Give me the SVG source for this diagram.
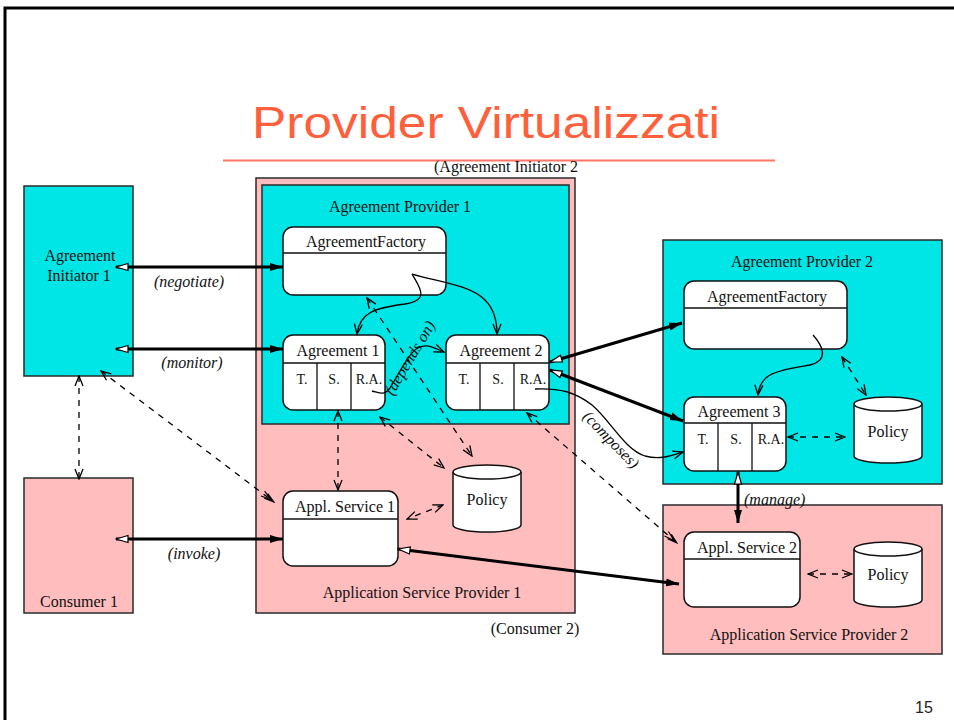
<svg xmlns="http://www.w3.org/2000/svg" width="954" height="720" viewBox="0 0 954 720">
  <style>
    .t { font-family: "Liberation Serif", "Times New Roman", serif; font-size: 16px; fill: #111; text-anchor: middle; }
    .s { font-size: 14px; }
    .i { font-style: italic; }
    .box { stroke: #2a2a2a; stroke-width: 1.5; }
    .cyan { fill: #00e5e5; }
    .pink { fill: #ffbdbd; }
    .node { fill: #fff; stroke: #111; stroke-width: 1.5; }
    .div { stroke: #111; stroke-width: 1.3; fill: none; }
    .thick { stroke: #000; stroke-width: 3; fill: none; marker-start: url(#hollow); marker-end: url(#solid); }
    .dash { stroke: #000; stroke-width: 1.3; fill: none; stroke-dasharray: 6 6; }
    .both { marker-start: url(#vee); marker-end: url(#vee); }
    .dbl { marker-start: url(#vee); marker-end: url(#vee2); }
    .curve { stroke: #000; stroke-width: 1.3; fill: none; marker-end: url(#vee); }
  </style>
  <defs>
    <marker id="solid" markerUnits="userSpaceOnUse" markerWidth="14" markerHeight="10" refX="13" refY="5" orient="auto-start-reverse">
      <path d="M0,1 L13,5 L0,9 z" fill="#000"/>
    </marker>
    <marker id="hollow" markerUnits="userSpaceOnUse" markerWidth="14" markerHeight="10" refX="13" refY="5" orient="auto-start-reverse">
      <path d="M1,1.5 L13,5 L1,8.5 z" fill="#fff" stroke="#000" stroke-width="1.2"/>
    </marker>
    <marker id="vee" markerUnits="userSpaceOnUse" markerWidth="12" markerHeight="10" refX="11" refY="5" orient="auto-start-reverse">
      <path d="M1,1 L11,5 L1,9" fill="none" stroke="#000" stroke-width="1.3"/>
    </marker>
    <marker id="vee2" markerUnits="userSpaceOnUse" markerWidth="16" markerHeight="10" refX="15" refY="5" orient="auto-start-reverse">
      <path d="M1,2 L11,5 L1,8 M5,2 L15,5 L5,8" fill="none" stroke="#000" stroke-width="1.1"/>
    </marker>
  </defs>

  <!-- slide frame -->
  <path d="M5,730 V8 H960" fill="none" stroke="#000" stroke-width="3"/>

  <!-- title -->
  <text x="486" y="138" font-family="Liberation Sans, Arial, sans-serif" font-size="44" fill="#ff5f3a" text-anchor="middle" textLength="468" lengthAdjust="spacingAndGlyphs">Provider Virtualizzati</text>
  <line x1="223" y1="160.5" x2="775" y2="160.5" stroke="#ff7566" stroke-width="2"/>
  <text class="t" x="506" y="172">(Agreement Initiator 2</text>

  <!-- containers -->
  <g id="asp1">
    <rect class="box pink" x="256" y="178" width="319" height="435"/>
    <text class="t" x="422" y="598">Application Service Provider 1</text>
  </g>
  <g id="ap1">
    <rect class="box cyan" x="262" y="185" width="307" height="239"/>
    <text class="t" x="400" y="212">Agreement Provider 1</text>
  </g>
  <g id="ap2">
    <rect class="box cyan" x="663" y="240" width="279" height="244"/>
    <text class="t" x="802" y="267">Agreement Provider 2</text>
  </g>
  <g id="asp2">
    <rect class="box pink" x="663" y="505" width="279" height="149"/>
    <text class="t" x="809" y="640">Application Service Provider 2</text>
  </g>
  <g id="initiator1">
    <rect class="box cyan" x="24" y="186" width="109" height="190"/>
    <text class="t" x="80" y="261">Agreement</text>
    <text class="t" x="79" y="281">Initiator 1</text>
  </g>
  <g id="consumer1">
    <rect class="box pink" x="24" y="478" width="109" height="135"/>
    <text class="t" x="79" y="607">Consumer 1</text>
  </g>
  <text class="t" x="535" y="634">(Consumer 2)</text>

  <!-- nodes inside provider 1 -->
  <g id="factory1">
    <rect class="node" x="283" y="227" width="163" height="68" rx="10"/>
    <line class="div" x1="283" y1="253" x2="446" y2="253"/>
    <text class="t" x="366" y="247">AgreementFactory</text>
  </g>
  <g id="agreement1">
    <rect class="node" x="283" y="335" width="102" height="75" rx="10"/>
    <path class="div" d="M283,363 H385 M317,363 V410 M351,363 V410"/>
    <text class="t" x="338" y="356">Agreement 1</text>
    <text class="t s" x="302" y="384">T.</text>
    <text class="t s" x="334" y="384">S.</text>
    <text class="t s" x="369" y="384">R.A.</text>
  </g>
  <g id="agreement2">
    <rect class="node" x="446" y="335" width="103" height="75" rx="10"/>
    <path class="div" d="M446,363 H549 M480,363 V410 M514,363 V410"/>
    <text class="t" x="501" y="356">Agreement 2</text>
    <text class="t s" x="464" y="384">T.</text>
    <text class="t s" x="498" y="384">S.</text>
    <text class="t s" x="533" y="384">R.A.</text>
  </g>
  <g id="service1">
    <rect class="node" x="283" y="491" width="115" height="75" rx="10"/>
    <line class="div" x1="283" y1="519" x2="398" y2="519"/>
    <text class="t" x="345" y="512">Appl. Service 1</text>
  </g>
  <g id="policy1">
    <path class="node" d="M453,472 V525 A34,7 0 0 0 521,525 V472"/>
    <ellipse class="node" cx="487" cy="472" rx="34" ry="7"/>
    <text class="t" x="487" y="505">Policy</text>
  </g>

  <!-- nodes inside provider 2 -->
  <g id="factory2">
    <rect class="node" x="684" y="281" width="163" height="68" rx="10"/>
    <line class="div" x1="684" y1="308" x2="847" y2="308"/>
    <text class="t" x="767" y="302">AgreementFactory</text>
  </g>
  <g id="agreement3">
    <rect class="node" x="684" y="397" width="102" height="74" rx="10"/>
    <path class="div" d="M684,423 H786 M718,423 V471 M752,423 V471"/>
    <text class="t" x="739" y="417">Agreement 3</text>
    <text class="t s" x="703" y="444">T.</text>
    <text class="t s" x="736" y="444">S.</text>
    <text class="t s" x="771" y="444">R.A.</text>
  </g>
  <g id="policy2">
    <path class="node" d="M854,404 V456 A34,7 0 0 0 922,456 V404"/>
    <ellipse class="node" cx="888" cy="404" rx="34" ry="7"/>
    <text class="t" x="888" y="437">Policy</text>
  </g>
  <g id="service2">
    <rect class="node" x="684" y="532" width="116" height="75" rx="10"/>
    <line class="div" x1="684" y1="559" x2="800" y2="559"/>
    <text class="t" x="747" y="553">Appl. Service 2</text>
  </g>
  <g id="policy3">
    <path class="node" d="M854,549 V600 A34,7 0 0 0 922,600 V549"/>
    <ellipse class="node" cx="888" cy="549" rx="34" ry="7"/>
    <text class="t" x="888" y="580">Policy</text>
  </g>

  <!-- connectors -->
  <g id="connectors">
    <!-- interactions -->
    <line class="thick" x1="116" y1="267" x2="283" y2="267"/>
    <line class="thick" x1="116" y1="349" x2="283" y2="349"/>
    <line class="thick" x1="116" y1="539" x2="283" y2="539"/>
    <line class="thick" x1="550" y1="362" x2="682" y2="323"/>
    <line class="thick" x1="550" y1="370" x2="683" y2="421"/>
    <line class="thick" x1="398" y1="549" x2="679" y2="584"/>
    <line class="thick" x1="738" y1="472" x2="738" y2="523"/>

    <!-- factories create agreements -->
    <path class="curve" d="M412,274 C420,288 430,300 405,304 C375,308 360,312 357,334"/>
    <path class="curve" d="M412,274 C440,282 470,285 485,300 C495,310 497,322 497,334"/>
    <path class="curve" d="M813,335 C822,345 830,360 810,365 C780,370 760,372 758,395"/>
    <!-- depends on / composes -->
    <path class="curve" d="M372,391 C380,393 384,396 390,388 C400,372 410,350 420,347 C428,344 432,347 444,352"/>
    <path class="curve" d="M535,389 C560,388 575,392 592,405 C610,420 625,450 645,456 C660,460 670,456 683,452"/>

    <!-- dashed relations -->
    <line class="dash both" x1="79" y1="376" x2="79" y2="479"/>
    <line class="dash dbl" x1="101" y1="371" x2="274" y2="502"/>
    <line class="dash both" x1="338" y1="411" x2="338" y2="490"/>
    <line class="dash both" x1="380" y1="417" x2="444" y2="468"/>
    <line class="dash both" x1="367" y1="298" x2="472" y2="456"/>
    <line class="dash both" x1="443" y1="505" x2="407" y2="519"/>
    <line class="dash dbl" x1="527" y1="413" x2="677" y2="543"/>
    <line class="dash both" x1="842" y1="357" x2="866" y2="395"/>
    <line class="dash both" x1="788" y1="437" x2="845" y2="437"/>
    <line class="dash both" x1="808" y1="574" x2="852" y2="574"/>

    <!-- labels -->
    <text class="t i" x="189" y="287">(negotiate)</text>
    <text class="t i" x="192" y="368">(monitor)</text>
    <text class="t i" x="194" y="559">(invoke)</text>
    <text class="t i" x="744" y="505" text-anchor="start" style="text-anchor:start">(manage)</text>
    <text class="t i" transform="translate(410,358) rotate(-59)" x="0" y="5">(depends on)</text>
    <text class="t i" transform="translate(611,440) rotate(46)" x="0" y="5">(composes)</text>
  </g>

  <text x="924" y="713" font-family="Liberation Sans, Arial, sans-serif" font-size="16" fill="#222" text-anchor="middle">15</text>
</svg>
